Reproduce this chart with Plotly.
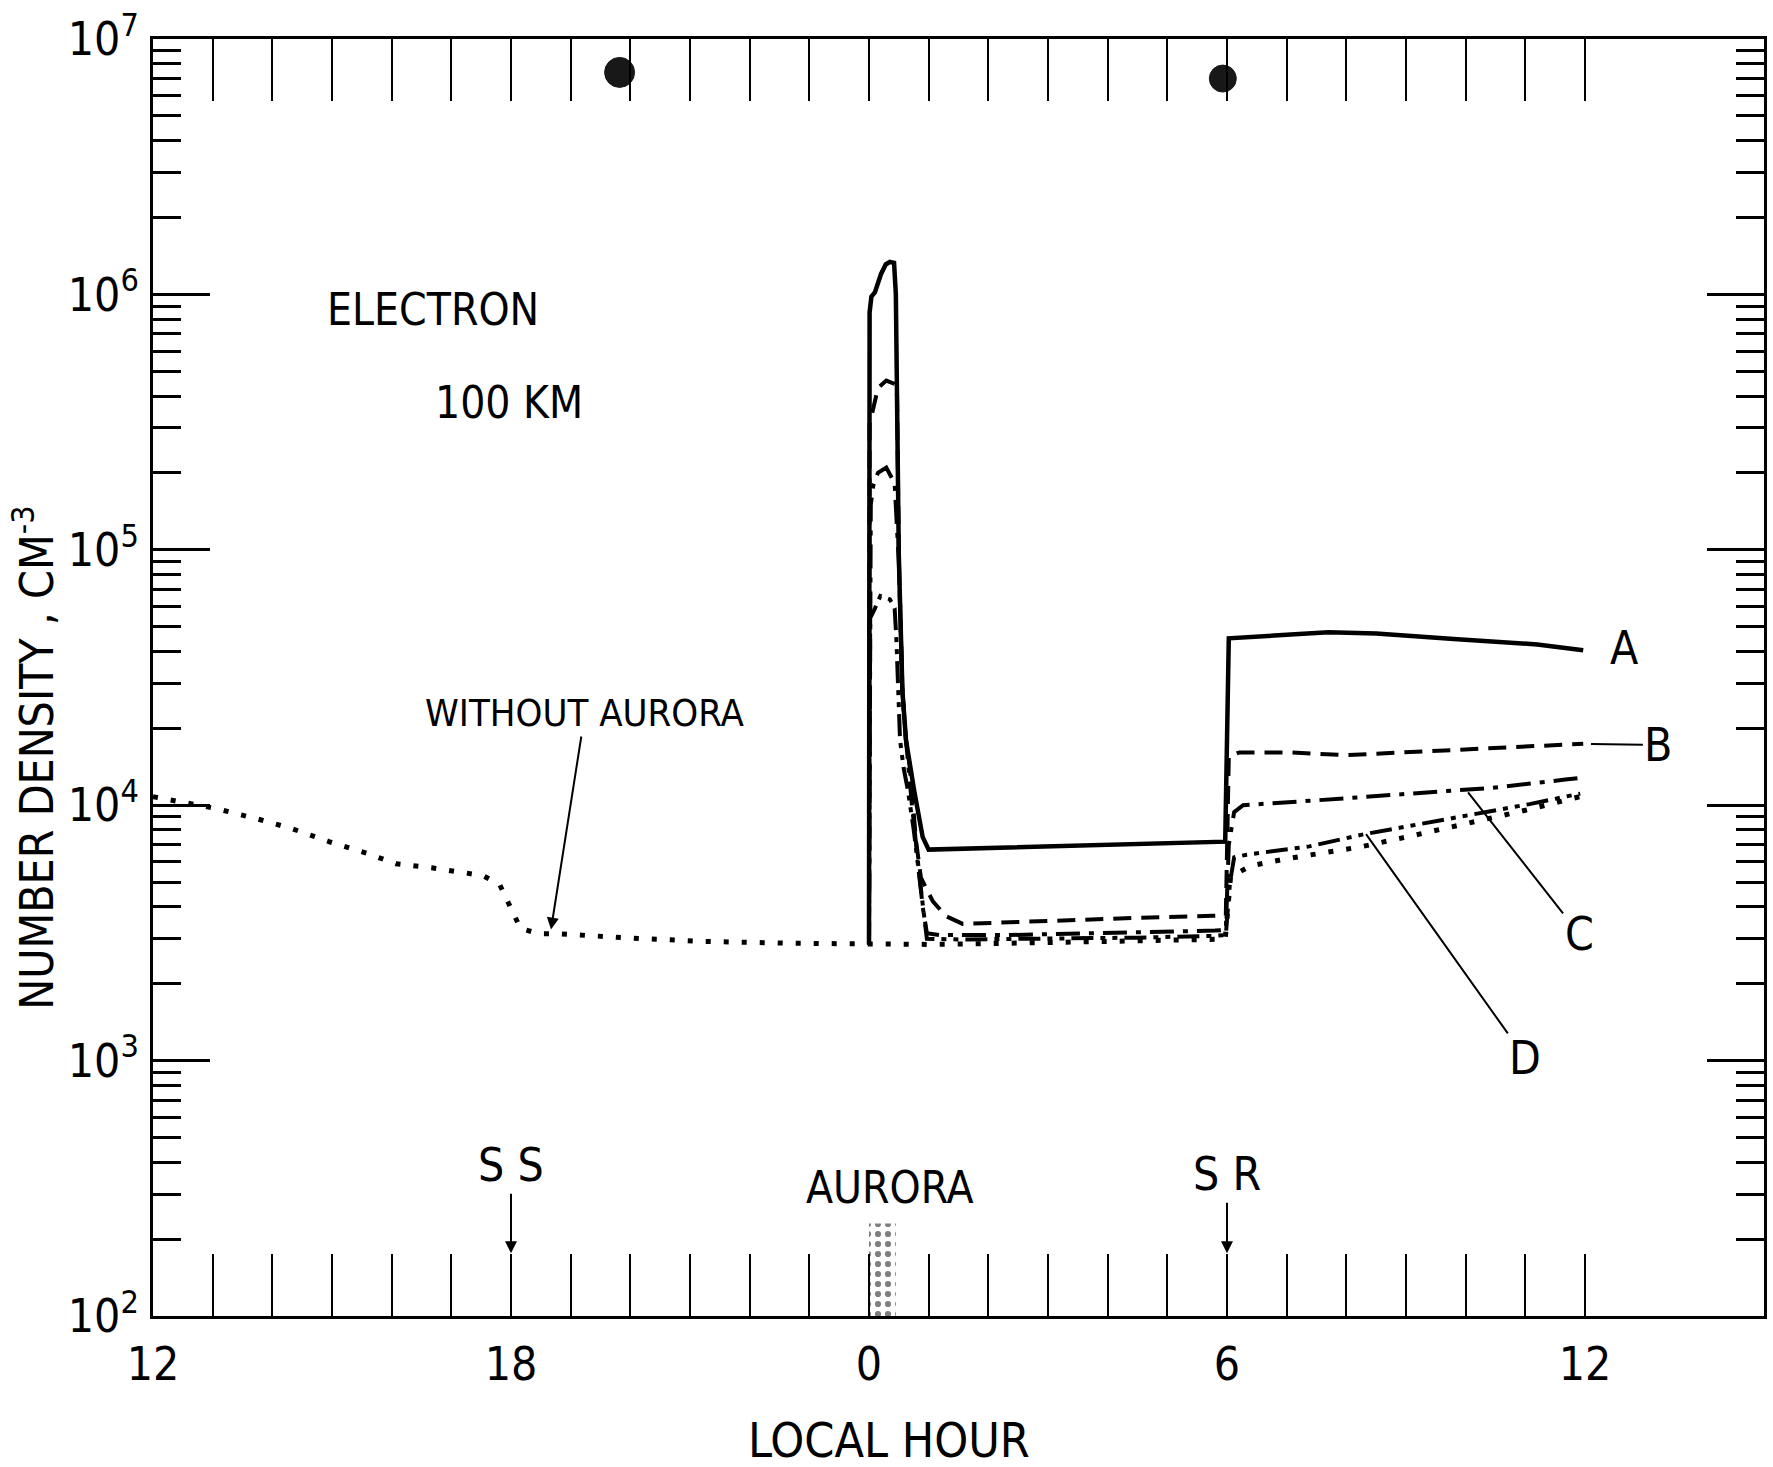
import plotly.graph_objects as go

FONT = "Liberation Sans Narrow, DejaVu Sans Condensed, Arial Narrow, Liberation Sans, sans-serif"

# Local hour on a continuous scale: 12 (noon) -> 24 (midnight, "0") -> 36 (noon next day)
# ---- "Without aurora" (dotted) ----
without_h = [12.0, 12.5, 13.06, 13.8, 14.33, 14.96, 15.6, 16.07, 16.67, 17.53, 17.81,
             18.01, 18.16, 18.47, 18.75, 20.0, 21.2, 22.7, 24.0, 25.0, 26.0, 27.0,
             28.0, 29.0, 29.97, 30.06, 30.4, 31.0, 32.24, 33.0, 33.95, 35.0, 35.98]
without_v = [10800, 10300, 9700, 8770, 8090, 7190, 6460, 5900, 5690, 5300, 4890,
             3900, 3290, 3140, 3140, 3020, 2930, 2880, 2850, 2850, 2870, 2900,
             2930, 2960, 2990, 5250, 5790, 6170, 6870, 7500, 8430, 9550, 10900]

# ---- Curve A (solid) ----
A_h = [24.0, 24.01, 24.04, 24.1, 24.2, 24.28, 24.35, 24.42, 24.45, 24.47, 24.50,
       24.56, 24.62, 24.76, 24.90, 25.0, 26.0, 27.0, 28.0, 29.0, 29.97, 30.03,
       30.3, 31.0, 31.7, 32.5, 33.8, 35.2, 35.97]
A_v = [2850, 8.5e5, 9.8e5, 1.02e6, 1.2e6, 1.31e6, 1.34e6, 1.33e6, 1.0e6, 4.5e5, 9.4e4,
       2.8e4, 1.8e4, 1.13e4, 7500, 6700, 6800, 6900, 7000, 7100, 7200, 45000,
       45500, 46500, 47500, 47000, 44700, 42600, 40400]

# ---- Curve B (dashed) ----
B_h = [24.0, 24.01, 24.15, 24.29, 24.43, 24.47, 24.50, 24.56, 24.62, 24.68, 24.79,
       24.87, 25.07, 25.29, 25.57, 26.3, 27.5, 28.5, 29.76, 29.98, 30.03, 30.21,
       31.07, 31.99, 32.97, 34.45, 35.97]
B_v = [2850, 3.1e5, 4.3e5, 4.6e5, 4.46e5, 4.0e5, 9.4e4, 2.8e4, 1.8e4, 1.43e4, 7200,
       5200, 4200, 3680, 3430, 3480, 3550, 3620, 3690, 3700, 15500, 16100,
       16100, 15700, 16100, 16800, 17400]

# ---- Curve C (dash-dot) ----
C_h = [24.0, 24.03, 24.07, 24.15, 24.29, 24.43, 24.47, 24.50, 24.56, 24.62, 24.72,
       24.82, 24.9, 24.97, 25.2, 26.3, 28.0, 29.8, 29.98, 30.03, 30.12, 30.27,
       31.38, 33.22, 34.45, 35.67, 35.92]
C_v = [2850, 1.5e5, 1.78e5, 2.0e5, 2.1e5, 1.82e5, 1.2e5, 9.0e4, 2.8e4, 1.8e4, 1.0e4,
       6000, 4000, 3150, 3100, 3100, 3150, 3230, 3250, 7000, 9400, 10000,
       10400, 11100, 11700, 12600, 12800]

# ---- Curve D (dash-dot-dot) ----
D_h = [24.0, 24.02, 24.1, 24.19, 24.35, 24.43, 24.46, 24.49, 24.52, 24.58, 24.65,
       24.75, 24.85, 24.93, 24.97, 25.5, 27.0, 28.5, 29.8, 29.98, 30.05, 30.12,
       30.33, 31.38, 32.3, 33.83, 35.07, 35.92]
D_v = [2850, 5.4e4, 5.9e4, 6.6e4, 6.4e4, 5.9e4, 4.4e4, 2.8e4, 1.8e4, 1.4e4, 1.15e4,
       8000, 5000, 3400, 3000, 2980, 3000, 3030, 3080, 3100, 5000, 6250,
       6400, 6900, 7700, 8950, 10100, 11100]

# Aurora interval (stippled bar at bottom)
aurora_h = [24.0, 24.45, 24.45, 24.0, 24.0]
aurora_v = [100, 100, 230, 230, 100]

# Ink blotches at top of the original sheet
blob_h = [19.82, 29.93]
blob_v = [7.4e6, 7.0e6]

# Axis ticks
label_hours = [12, 18, 24, 30, 36]
label_text = ["12", "18", "0", "6", "12"]
hour_ticks = list(range(13, 37))
y_major = [10 ** n for n in range(2, 8)]
y_major_text = ["10<sup>%d</sup>" % n for n in range(2, 8)]
y_minor = [k * 10 ** n for n in range(2, 7) for k in range(2, 10)]

fig = go.Figure()

fig.add_trace(go.Scatter(x=aurora_h, y=aurora_v, mode="lines", fill="toself",
                         line=dict(width=0, color="black"), fillcolor="white",
                         fillpattern=dict(shape=".", fgcolor="black", bgcolor="white",
                                          size=10, solidity=0.3),
                         showlegend=False, hoverinfo="skip"))

fig.add_trace(go.Scatter(x=without_h, y=without_v, mode="lines",
                         line=dict(color="black", width=5, dash="5px,13px"),
                         showlegend=False))
fig.add_trace(go.Scatter(x=A_h, y=A_v, mode="lines",
                         line=dict(color="black", width=4.5), showlegend=False))
fig.add_trace(go.Scatter(x=B_h, y=B_v, mode="lines",
                         line=dict(color="black", width=4, dash="18px,10px"),
                         showlegend=False))
fig.add_trace(go.Scatter(x=C_h, y=C_v, mode="lines",
                         line=dict(color="black", width=4, dash="24px,9px,5px,9px"),
                         showlegend=False))
fig.add_trace(go.Scatter(x=D_h, y=D_v, mode="lines",
                         line=dict(color="black", width=4, dash="22px,7px,5px,7px,5px,7px"),
                         showlegend=False))
fig.add_trace(go.Scatter(x=blob_h, y=blob_v, mode="markers",
                         marker=dict(color="black", size=[30, 27], symbol="circle",
                                     opacity=0.9, line=dict(color="#000", width=1)),
                         showlegend=False))

txt = dict(family=FONT, color="black")
ann = []

def label(text, x, ly, size):
    ann.append(dict(text=text, x=x, y=ly, xref="x", yref="y", showarrow=False,
                    font=dict(size=size, **txt), xanchor="center", yanchor="middle"))

def pointer(text, size, x, y, ax, ay, head=0):
    # arrow head at (x, y); text centred at (ax, ay); y values in log10 units
    ann.append(dict(text=text, font=dict(size=size, **txt), x=x, y=y, ax=ax, ay=ay,
                    xref="x", yref="y", axref="x", ayref="y", showarrow=True,
                    arrowhead=head, arrowsize=1.2, arrowwidth=2,
                    arrowcolor="black", standoff=0))

label("ELECTRON", 16.69, 5.94, 44)
label("100 KM", 17.96, 5.577, 44)
label("A", 36.66, 4.615, 46)
label("AURORA", 24.35, 2.504, 44)

pointer("WITHOUT AURORA", 38, 18.67, 3.513, 19.24, 4.361, 2)
pointer("B", 46, 36.1, 4.24, 37.23, 4.236)
pointer("C", 46, 34.04, 4.05, 35.9, 3.497)
pointer("D", 46, 32.33, 3.887, 35.0, 3.01)
pointer("S S", 46, 18.0, 2.246, 18.0, 2.59, 2)
pointer("S R", 46, 30.0, 2.246, 30.0, 2.555, 2)

# Axis titles
ann.append(dict(text="NUMBER DENSITY , CM<sup>-3</sup>", textangle=-90,
                x=-0.074, y=0.437, xref="paper", yref="paper", showarrow=False,
                font=dict(size=46, **txt), xanchor="center", yanchor="middle"))
ann.append(dict(text="LOCAL HOUR", x=0.4566, y=-0.097, xref="paper", yref="paper",
                showarrow=False, font=dict(size=48, **txt),
                xanchor="center", yanchor="middle"))

fig.update_layout(
    width=1773, height=1467,
    margin=dict(l=153, r=6, t=37, b=151),
    paper_bgcolor="white", plot_bgcolor="white",
    annotations=ann,
    showlegend=False,
    xaxis=dict(range=[12, 39], tickmode="array", tickvals=label_hours,
               ticktext=label_text,
               ticks="inside", ticklen=62, tickwidth=2, tickcolor="black",
               showline=True, linewidth=3, linecolor="black", mirror="allticks",
               showgrid=False, zeroline=False, ticklabelstandoff=6,
               tickfont=dict(size=46, **txt),
               minor=dict(tickmode="array", tickvals=hour_ticks, ticks="inside",
                          ticklen=62, tickwidth=2, tickcolor="black", showgrid=False)),
    yaxis=dict(type="log", range=[2, 7], tickmode="array", tickvals=y_major,
               ticktext=y_major_text, ticks="inside", ticklen=57, tickwidth=2.5,
               tickcolor="black", showline=True, linewidth=3, linecolor="black",
               mirror="allticks", showgrid=False, zeroline=False,
               ticklabelstandoff=2, tickfont=dict(size=46, **txt),
               minor=dict(tickmode="array", tickvals=y_minor, ticks="inside",
                          ticklen=28, tickwidth=2.5, tickcolor="black",
                          showgrid=False)),
)

fig.write_html("out.html")
